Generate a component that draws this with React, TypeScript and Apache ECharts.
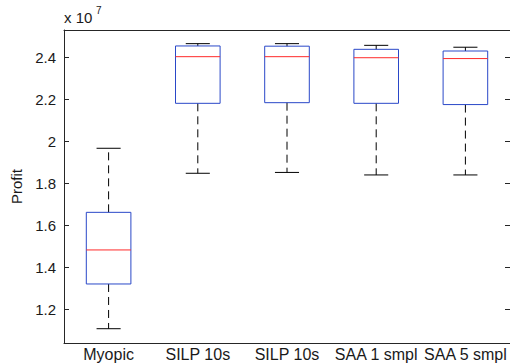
import React, { useEffect, useRef } from "react";
import * as echarts from "echarts";

// Profit values in units of 10^7
const categories = ["Myopic", "SILP 10s", "SILP 10s", "SAA 1 smpl", "SAA 5 smpl"];
const lowerWhisker = [1.108, 1.848, 1.852, 1.840, 1.840];
const q1 = [1.321, 2.181, 2.184, 2.181, 2.175];
const median = [1.483, 2.403, 2.403, 2.398, 2.394];
const q3 = [1.662, 2.454, 2.453, 2.438, 2.430];
const upperWhisker = [1.967, 2.465, 2.465, 2.457, 2.448];
const yTicks = [1.2, 1.4, 1.6, 1.8, 2.0, 2.2, 2.4];
const yMin = 1.04;
const yMax = 2.53;

const FONT = "'Liberation Sans', Arial, sans-serif";
const AXIS_COLOR = "#262626";
const TEXT_COLOR = "#1a1a1a";

export default function App() {
  const ref = useRef<HTMLDivElement>(null);
  useEffect(() => {
    if (!ref.current) return;
    const chart = echarts.init(ref.current, null, { renderer: "svg" });
    const data = categories.map((_, i) => [i, lowerWhisker[i], q1[i], median[i], q3[i], upperWhisker[i]]);
    const renderItem = (params: any, api: any) => {
      const idx = api.value(0);
      const band = api.size([1, 0])[0];
      const [cx, yLow] = api.coord([idx, api.value(1)]);
      const yQ1 = api.coord([idx, api.value(2)])[1];
      const yMed = api.coord([idx, api.value(3)])[1];
      const yQ3 = api.coord([idx, api.value(4)])[1];
      const yHigh = api.coord([idx, api.value(5)])[1];
      const bh = band * 0.25;
      const ch = band * 0.135;
      const dash = { stroke: "#000", lineWidth: 1, lineDash: [8, 5], fill: null };
      const solid = { stroke: "#000", lineWidth: 1, fill: null };
      return {
        type: "group",
        children: [
          { type: "line", shape: { x1: cx, y1: yQ3, x2: cx, y2: yHigh }, style: dash },
          { type: "line", shape: { x1: cx, y1: yQ1, x2: cx, y2: yLow }, style: dash },
          { type: "line", shape: { x1: cx - ch, y1: yHigh, x2: cx + ch, y2: yHigh }, style: solid },
          { type: "line", shape: { x1: cx - ch, y1: yLow, x2: cx + ch, y2: yLow }, style: solid },
          {
            type: "rect",
            shape: { x: cx - bh, y: yQ3, width: bh * 2, height: yQ1 - yQ3 },
            style: { stroke: "#2a48c8", lineWidth: 1, fill: "none" },
          },
          {
            type: "line",
            shape: { x1: cx - bh, y1: yMed, x2: cx + bh, y2: yMed },
            style: { stroke: "#ff2a2a", lineWidth: 1 },
          },
        ],
      };
    };
    chart.setOption({
      animation: false,
      grid: { left: 64, right: -2, top: 30, bottom: 21, containLabel: false },
      xAxis: [
        {
          type: "category",
          data: categories,
          position: "bottom",
          boundaryGap: true,
          axisLine: { lineStyle: { color: AXIS_COLOR, width: 1 } },
          axisTick: { inside: true, alignWithLabel: true, length: 5, lineStyle: { color: AXIS_COLOR } },
          axisLabel: { color: TEXT_COLOR, fontFamily: FONT, fontSize: 16, margin: 3, interval: 0 },
          splitLine: { show: false },
        },
        {
          type: "category",
          data: categories,
          position: "top",
          boundaryGap: true,
          axisLine: { lineStyle: { color: AXIS_COLOR, width: 1 } },
          axisTick: { inside: true, alignWithLabel: true, length: 5, lineStyle: { color: AXIS_COLOR } },
          axisLabel: { show: false },
          splitLine: { show: false },
        },
      ],
      yAxis: [
        {
          type: "value",
          min: yMin,
          max: yMax,
          position: "left",
          name: "Profit",
          nameLocation: "middle",
          nameGap: 33,
          nameTextStyle: { color: TEXT_COLOR, fontFamily: FONT, fontSize: 15 },
          axisLine: { show: true, lineStyle: { color: AXIS_COLOR, width: 1 } },
          axisTick: { show: true, inside: true, length: 5, customValues: yTicks, lineStyle: { color: AXIS_COLOR } },
          axisLabel: {
            color: TEXT_COLOR,
            fontFamily: FONT,
            fontSize: 15,
            margin: 8,
            customValues: yTicks,
            formatter: (v: number) => String(Math.round(v * 10) / 10),
          },
          splitLine: { show: false },
        },
        {
          type: "value",
          min: yMin,
          max: yMax,
          position: "right",
          axisLine: { show: true, lineStyle: { color: AXIS_COLOR, width: 1 } },
          axisTick: { show: true, inside: true, length: 5, customValues: yTicks, lineStyle: { color: AXIS_COLOR } },
          axisLabel: { show: false },
          splitLine: { show: false },
        },
      ],
      graphic: [
        {
          type: "text",
          left: 64,
          top: 10,
          style: { text: "x 10", fill: TEXT_COLOR, font: `15px ${FONT}` },
        },
        {
          type: "text",
          left: 96,
          top: 5,
          style: { text: "7", fill: TEXT_COLOR, font: `10px ${FONT}` },
        },
      ],
      series: [
        {
          type: "custom",
          xAxisIndex: 0,
          yAxisIndex: 0,
          renderItem,
          data,
          encode: { x: 0, y: [1, 2, 3, 4, 5] },
          clip: false,
        },
      ],
    });
    return () => chart.dispose();
  }, []);
  return <div ref={ref} style={{ width: 510, height: 364, position: "absolute", left: 0, top: 0 }} />;
}
